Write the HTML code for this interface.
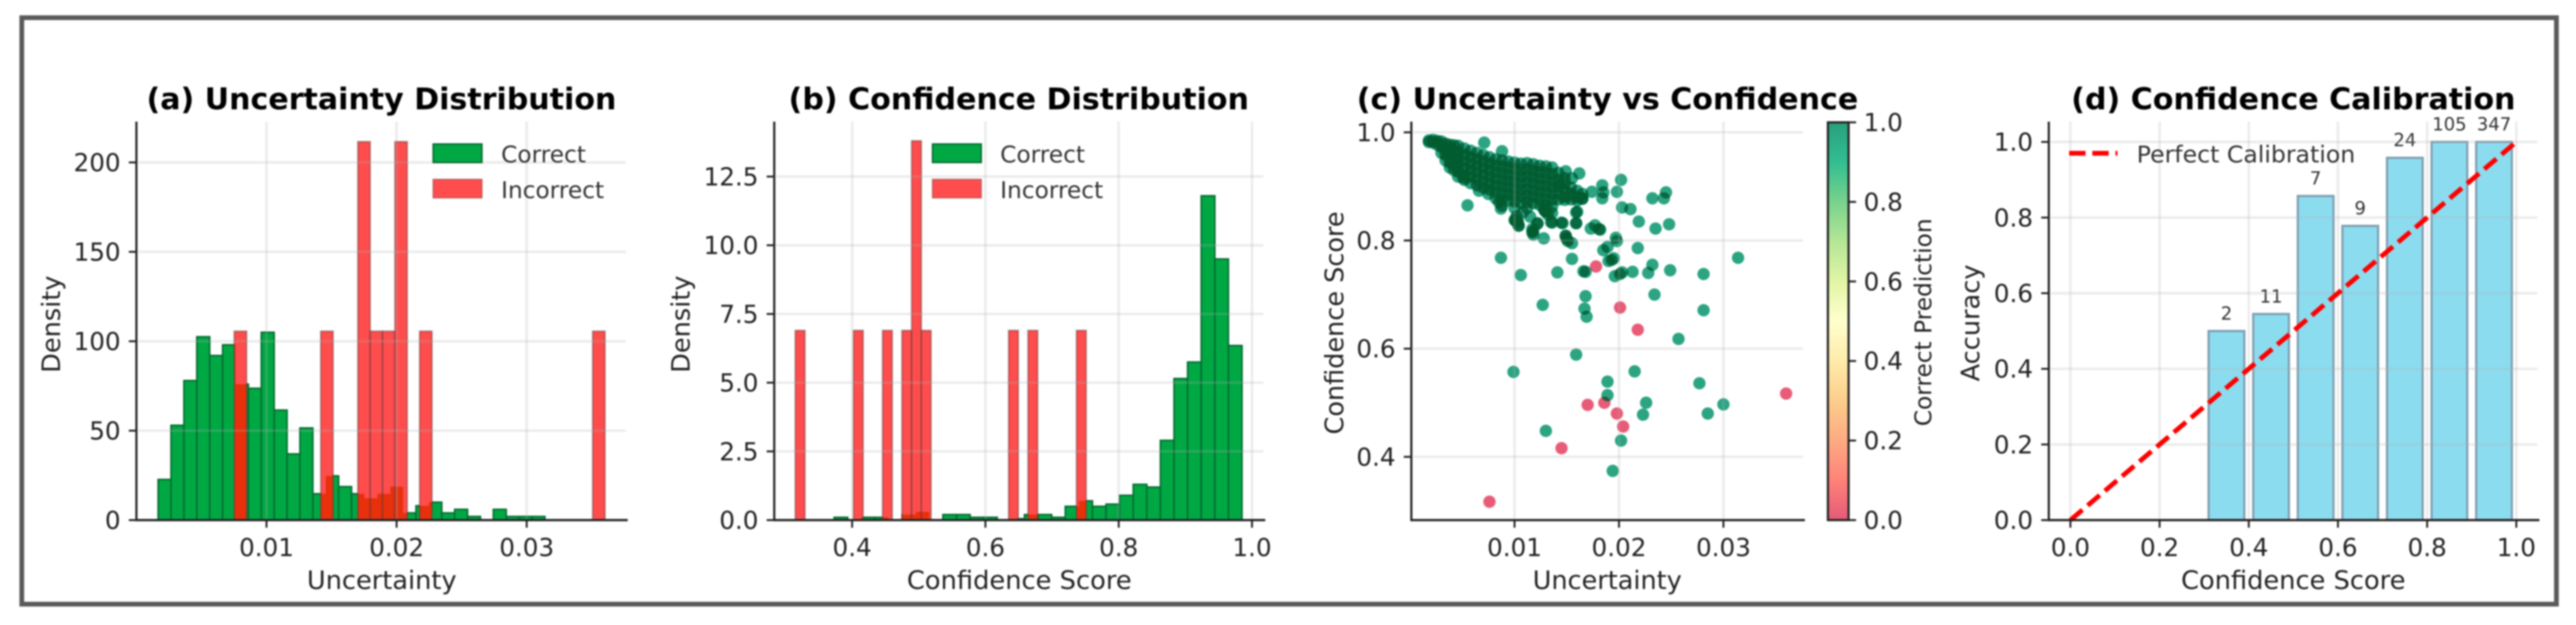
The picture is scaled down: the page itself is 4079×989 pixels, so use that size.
<!DOCTYPE html>
<html lang="en">
<head>
<meta charset="utf-8">
<title>Uncertainty and confidence analysis</title>
<style>
html,body{margin:0;padding:0;background:#fff;width:4079px;height:989px;overflow:hidden}
svg{display:block;filter:blur(1.4px)}
text{font-family:"DejaVu Sans","Liberation Sans",sans-serif;fill:#222}
.title{font-size:47.5px;font-weight:700;fill:#000}
.axis-label{font-size:40.5px}
.legend-text{font-size:36.8px;fill:#333}
</style>
</head>
<body>
<svg id="chart" xmlns="http://www.w3.org/2000/svg" width="4079" height="989" viewBox="0 0 4079 989">
  <defs>
    <linearGradient id="cbar-gradient" x1="0" y1="1" x2="0" y2="0">
      <stop offset="0" stop-color="#e45a78"/>
      <stop offset="0.1" stop-color="#ff8278"/>
      <stop offset="0.2" stop-color="#fdaa82"/>
      <stop offset="0.3" stop-color="#fdcd8c"/>
      <stop offset="0.4" stop-color="#feebaa"/>
      <stop offset="0.5" stop-color="#ffffcd"/>
      <stop offset="0.6" stop-color="#e1f5a5"/>
      <stop offset="0.7" stop-color="#b4e696"/>
      <stop offset="0.8" stop-color="#78d28c"/>
      <stop offset="0.9" stop-color="#32be91"/>
      <stop offset="1" stop-color="#28a07d"/>
    </linearGradient>
  </defs>
  <rect x="34.5" y="28" width="4013.5" height="928" fill="#fff" stroke="#5a5a5a" stroke-width="7.5"/>

  <g id="panel-a"></g>
  <g id="panel-b"></g>
  <g id="panel-c"></g>
  <g id="panel-d"></g>

  <text class="title" x="232" y="173" textLength="744" lengthAdjust="spacingAndGlyphs">(a) Uncertainty Distribution</text>
  <text class="axis-label" x="486" y="932" textLength="237" lengthAdjust="spacingAndGlyphs">Uncertainty</text>
  <text class="axis-label" transform="translate(95,513) rotate(-90)" text-anchor="middle">Density</text>
  <g>
    <rect x="686" y="228" width="77" height="29" fill="#00a844" stroke="#056b30" stroke-width="2.5"/>
    <text class="legend-text" x="793.5" y="257">Correct</text>
    <rect x="686" y="284" width="77" height="29" fill="#ff4d4d" stroke="#c05a5a" stroke-width="2"/>
    <text class="legend-text" x="793.5" y="313.5">Incorrect</text>
  </g>

  <text class="title" x="1248.7" y="173" textLength="729" lengthAdjust="spacingAndGlyphs">(b) Confidence Distribution</text>
  <text class="axis-label" x="1436" y="932" textLength="356" lengthAdjust="spacingAndGlyphs">Confidence Score</text>
  <text class="axis-label" transform="translate(1092,513) rotate(-90)" text-anchor="middle">Density</text>
  <g>
    <rect x="1476.7" y="228" width="77" height="29" fill="#00a844" stroke="#056b30" stroke-width="2.5"/>
    <text class="legend-text" x="1583.8" y="257">Correct</text>
    <rect x="1476.7" y="284" width="77" height="29" fill="#ff4d4d" stroke="#c05a5a" stroke-width="2"/>
    <text class="legend-text" x="1583.8" y="313.5">Incorrect</text>
  </g>

  <text class="title" x="2148.4" y="173" textLength="794" lengthAdjust="spacingAndGlyphs">(c) Uncertainty vs Confidence</text>
  <text class="axis-label" x="2427" y="932" textLength="236" lengthAdjust="spacingAndGlyphs">Uncertainty</text>
  <text class="axis-label" transform="translate(2127,511) rotate(-90)" text-anchor="middle" textLength="353" lengthAdjust="spacingAndGlyphs">Confidence Score</text>
  <text class="axis-label" transform="translate(3058,510) rotate(-90)" text-anchor="middle" style="font-size:36.8px">Correct Prediction</text>

  <text class="title" x="3279.7" y="173" textLength="703.5" lengthAdjust="spacingAndGlyphs">(d) Confidence Calibration</text>
  <text class="axis-label" x="3453.6" y="932" textLength="355.4" lengthAdjust="spacingAndGlyphs">Confidence Score</text>
  <text class="axis-label" transform="translate(3134,511) rotate(-90)" text-anchor="middle">Accuracy</text>
  <g>
    <line x1="3276.4" y1="242.5" x2="3353" y2="242.5" stroke="#ff0000" stroke-width="7.5" stroke-dasharray="26 10.7"/>
    <text class="legend-text" x="3383.4" y="257" textLength="346" lengthAdjust="spacingAndGlyphs">Perfect Calibration</text>
  </g>
</svg>

<script>
// Panel (a) data: density per uncertainty bin
const uncertaintyCorrectStart = 0.00167;
const uncertaintyCorrectBinWidth = 0.000991;
const uncertaintyCorrectDensity = [22.7,53,78,102.5,92,98,76,73.7,105,61.5,37,51.5,14.7,24.7,18.7,14.7,12.2,14.7,18.7,4,8,10,4,6,2,0,6,2,2,2];
const uncertaintyIncorrectStart = 0.00752;
const uncertaintyIncorrectBinWidth = 0.00095;
const uncertaintyIncorrectDensity = [105.6,0,0,0,0,0,0,105.6,0,0,211.6,105.6,105.6,211.6,0,105.6,0,0,0,0,0,0,0,0,0,0,0,0,0,105.6];
const uncertaintyXTicks = [0.01,0.02,0.03];
const uncertaintyXTickLabels = ['0.01','0.02','0.03'];
const uncertaintyYTicks = [0,50,100,150,200];
const uncertaintyYTickLabels = ['0','50','100','150','200'];

// Panel (b) data: density per confidence bin
const confidenceCorrectStart = 0.373;
const confidenceCorrectBinWidth = 0.0204;
const confidenceCorrectDensity = [0.1,0,0.1,0.1,0,0.2,0.3,0,0.2,0.2,0.1,0.1,0,0.05,0.2,0.2,0.1,0.5,0.7,0.5,0.58,0.9,1.3,1.2,2.9,5.15,5.75,11.8,9.5,6.35];
const confidenceIncorrectStart = 0.3147;
const confidenceIncorrectBinWidth = 0.01455;
const confidenceIncorrectDensity = [6.9,0,0,0,0,0,6.9,0,0,6.9,0,6.9,13.8,6.9,0,0,0,0,0,0,0,0,6.9,0,6.9,0,0,0,0,6.9];
const confidenceXTicks = [0.4,0.6,0.8,1.0];
const confidenceXTickLabels = ['0.4','0.6','0.8','1.0'];
const confidenceYTicks = [0,2.5,5,7.5,10,12.5];
const confidenceYTickLabels = ['0.0','2.5','5.0','7.5','10.0','12.5'];

// Panel (c) data: [uncertainty, confidence]
const scatterCorrect = [
[.0018,.985],[.0018,.982],[.0022,.986],[.0022,.981],[.0026,.984],[.0026,.977],[.0030,.983],[.0030,.973],[.0030,.962],
[.0034,.979],[.0034,.969],[.0034,.958],[.0034,.948],[.0038,.977],[.0038,.966],[.0038,.955],[.0038,.944],[.0038,.935],
[.0042,.976],[.0042,.964],[.0042,.952],[.0042,.941],[.0042,.930],[.0046,.975],[.0046,.963],[.0046,.951],[.0046,.939],[.0046,.927],[.0046,.918],
[.0052,.970],[.0052,.958],[.0052,.946],[.0052,.934],[.0052,.922],[.0052,.912],[.0058,.966],[.0058,.954],[.0058,.942],[.0058,.930],[.0058,.918],[.0058,.906],
[.0064,.962],[.0064,.950],[.0064,.938],[.0064,.926],[.0064,.914],[.0064,.902],[.0066,.892],[.0070,.958],[.0070,.946],[.0070,.934],[.0070,.922],[.0070,.910],[.0070,.898],
[.0076,.954],[.0076,.942],[.0076,.930],[.0076,.918],[.0076,.906],[.0076,.894],[.0082,.950],[.0082,.938],[.0082,.926],[.0082,.914],[.0082,.902],[.0082,.890],[.0082,.878],
[.0088,.948],[.0088,.936],[.0088,.924],[.0088,.912],[.0088,.900],[.0088,.888],[.0088,.876],[.0088,.864],[.0087,.859],[.0094,.946],[.0094,.934],[.0094,.922],[.0094,.910],[.0094,.898],[.0094,.886],[.0094,.874],
[.0100,.944],[.0100,.932],[.0100,.920],[.0100,.908],[.0100,.896],[.0100,.884],[.0100,.872],[.0100,.860],[.0100,.838],[.0103,.834],[.0106,.942],[.0106,.930],[.0106,.918],[.0106,.906],[.0106,.894],[.0106,.882],[.0106,.870],
[.0112,.943],[.0112,.931],[.0112,.919],[.0112,.907],[.0112,.895],[.0112,.883],[.0112,.871],[.0118,.941],[.0118,.929],[.0118,.917],[.0118,.905],[.0118,.893],[.0118,.881],[.0118,.869],
[.0124,.938],[.0124,.926],[.0124,.914],[.0124,.902],[.0124,.890],[.0124,.878],[.0124,.866],[.0130,.937],[.0130,.925],[.0130,.913],[.0130,.901],[.0130,.889],[.0130,.877],[.0130,.865],[.0130,.853],
[.0136,.935],[.0136,.923],[.0136,.911],[.0136,.899],[.0136,.887],[.0136,.875],[.0136,.863],[.0136,.851],[.0142,.925],[.0142,.912],[.0142,.900],[.0142,.888],[.0142,.876],[.0148,.915],[.0148,.905],[.0148,.893],[.0148,.881],[.0148,.875],
[.0154,.898],[.0154,.886],[.0154,.876],[.0160,.892],[.0160,.880],[.0160,.874],[.0165,.886],[.0165,.878],
[.0075,.886],[.0085,.871],[.0104,.828],[.0115,.844],[.0122,.832],[.0135,.834],[.0145,.833],[.0159,.832],[.0160,.853],[.0165,.877],[.0143,.902],[.0051,.916],
[.0101,.838],[.0103,.836],[.0102,.845],[.0108,.852],[.0112,.860],[.0117,.815],[.0118,.818],[.0149,.809],[.0150,.803],[.0129,.855],[.0132,.848],[.0128,.858],
[.0071,.981],[.0088,.965],[.0055,.865],[.0149,.928],[.0162,.924],[.0155,.915],[.0202,.912],[.0174,.890],[.0184,.902],[.0185,.889],[.0184,.878],[.0198,.890],[.0203,.861],[.0211,.858],
[.0232,.878],[.0243,.878],[.0245,.889],[.0219,.835],[.0235,.822],[.0248,.830],[.0177,.828],[.0173,.822],[.0181,.821],[.0182,.820],[.0197,.805],[.0198,.799],[.0189,.788],[.0185,.782],[.0218,.786],
[.0128,.804],[.0149,.808],[.0151,.799],[.0155,.795],[.0117,.821],[.0118,.811],[.0101,.836],[.0104,.827],[.0122,.831],[.0136,.833],[.0146,.832],[.0159,.832],[.0159,.852],
[.0087,.768],[.0106,.736],[.0141,.741],[.0155,.766],[.0166,.743],[.0168,.742],[.0190,.762],[.0193,.764],[.0195,.767],[.0232,.755],[.0228,.740],[.0213,.742],[.0196,.734],[.0201,.738],[.0203,.741],[.0249,.745],[.0281,.738],[.0314,.768],
[.0234,.700],[.0281,.671],[.0168,.697],[.0167,.674],[.0169,.659],[.0127,.681],[.0257,.618],[.0159,.589],[.0099,.557],[.0215,.558],[.0277,.536],[.0189,.539],[.0189,.514],[.0226,.500],[.0223,.478],[.0285,.480],[.0300,.497],[.0130,.448],[.0202,.430],[.0194,.374]
];
const scatterIncorrect = [[.0178,.752],[.0201,.676],[.0218,.635],[.0170,.496],[.0186,.500],[.0198,.480],[.0204,.456],[.0145,.416],[.0076,.317],[.0360,.517]];
const scatterXTicks = [0.01,0.02,0.03];
const scatterXTickLabels = ['0.01','0.02','0.03'];
const scatterYTicks = [0.4,0.6,0.8,1.0];
const scatterYTickLabels = ['0.4','0.6','0.8','1.0'];
const colorbarTicks = [0,0.2,0.4,0.6,0.8,1.0];
const colorbarTickLabels = ['0.0','0.2','0.4','0.6','0.8','1.0'];

// Panel (d) data
const calibrationBinCenters = [0.35,0.45,0.55,0.65,0.75,0.85,0.95];
const calibrationBinWidth = 0.08;
const calibrationAccuracy = [0.5,0.545,0.857,0.778,0.958,1,1];
const calibrationCounts = ['2','11','7','9','24','105','347'];
const perfectLineX = [0,1];
const perfectLineY = [0,1];
const calibrationXTicks = [0,0.2,0.4,0.6,0.8,1.0];
const calibrationXTickLabels = ['0.0','0.2','0.4','0.6','0.8','1.0'];
const calibrationYTicks = [0,0.2,0.4,0.6,0.8,1.0];
const calibrationYTickLabels = ['0.0','0.2','0.4','0.6','0.8','1.0'];

const SVGNS = 'http://www.w3.org/2000/svg';
function linear(d0, d1, r0, r1) { return v => r0 + (v - d0) / (d1 - d0) * (r1 - r0); }
function shape(parent, tag, attrs) {
  const el = document.createElementNS(SVGNS, tag);
  for (const k in attrs) el.setAttribute(k, attrs[k]);
  parent.appendChild(el);
  return el;
}

function drawGrid(g, x, y, xTicks, yTicks, box) {
  xTicks.forEach(t => {
    const el = shape(g, 'line', {x1: x(t), x2: x(t), y1: box.top, y2: box.bottom, stroke: 'rgb(176,176,176)', 'stroke-opacity': 0.24, 'stroke-width': 4});
    
    
  });
  yTicks.forEach(t => {
    const el = shape(g, 'line', {x1: box.left + 3, x2: box.right - 3, y1: y(t), y2: y(t), stroke: 'rgb(176,176,176)', 'stroke-opacity': 0.24, 'stroke-width': 4});
    
    
  });
}

function drawAxes(g, x, y, xTicks, xLabels, yTicks, yLabels, box) {
  const ySpine = shape(g, 'line', {x1: box.left, x2: box.left, y1: box.top, y2: box.bottom + 1.7, stroke: '#222', 'stroke-width': 3.4});
  
  
  const xSpine = shape(g, 'line', {x1: box.left, x2: box.right, y1: box.bottom, y2: box.bottom, stroke: '#222', 'stroke-width': 3.4});
  
  
  xTicks.forEach((t, i) => {
    const tick = shape(g, 'line', {x1: x(t), x2: x(t), y1: box.bottom, y2: box.bottom + 12, stroke: '#222', 'stroke-width': 3});
    
    
    const lab = shape(g, 'text', {x: x(t), y: 880, 'text-anchor': 'middle', 'font-size': 39});
    lab.textContent = xLabels[i];
    
    
  });
  yTicks.forEach((t, i) => {
    const tick = shape(g, 'line', {x1: box.left - 12, x2: box.left, y1: y(t), y2: y(t), stroke: '#222', 'stroke-width': 3});
    
    
    const lab = shape(g, 'text', {x: box.left - 25, y: y(t) + 14, 'text-anchor': 'end', 'font-size': 39});
    lab.textContent = yLabels[i];
    
    
  });
}

function drawHistogram(g, x, y, correct, cStart, cWidth, incorrect, iStart, iWidth) {
  correct.forEach((v, i) => {
    if (!v) return;
    const x0 = x(cStart + i * cWidth), x1 = x(cStart + (i + 1) * cWidth);
    const bar = shape(g, 'rect', {x: x0, y: y(v), width: x1 - x0, height: y(0) - y(v), fill: '#00a844', stroke: '#056b30', 'stroke-width': 2.5});
    
    
  });
  incorrect.forEach((v, i) => {
    if (!v) return;
    const lo = iStart + i * iWidth, hi = lo + iWidth;
    const x0 = x(lo), x1 = x(hi);
    const bar = shape(g, 'rect', {x: x0, y: y(v), width: x1 - x0, height: y(0) - y(v), fill: '#ff4d4d'});
    
    
    correct.forEach((c, j) => {
      if (!c) return;
      const cl = Math.max(lo, cStart + j * cWidth), ch = Math.min(hi, cStart + (j + 1) * cWidth);
      if (ch <= cl) return;
      const h = Math.min(c, v);
      const ov = shape(g, 'rect', {x: x(cl), y: y(h), width: x(ch) - x(cl), height: y(0) - y(h), fill: '#e8300c'});
      
      
    });
    const edge = shape(g, 'rect', {x: x0, y: y(v), width: x1 - x0, height: y(0) - y(v), fill: 'none', stroke: 'rgba(90,50,50,0.45)', 'stroke-width': 2.5});
    
    
  });
}

// Panel a
(function () {
  const g = document.getElementById('panel-a');
  const x = linear(0.01, 0.03, 422, 834);
  const y = linear(0, 200, 823, 257);
  const box = {left: 216, right: 994, top: 192.5, bottom: 823};
  drawHistogram(g, x, y, uncertaintyCorrectDensity, uncertaintyCorrectStart, uncertaintyCorrectBinWidth, uncertaintyIncorrectDensity, uncertaintyIncorrectStart, uncertaintyIncorrectBinWidth);
  drawGrid(g, x, y, uncertaintyXTicks, uncertaintyYTicks, box);
  drawAxes(g, x, y, uncertaintyXTicks, uncertaintyXTickLabels, uncertaintyYTicks, uncertaintyYTickLabels, box);
})();

// Panel b
(function () {
  const g = document.getElementById('panel-b');
  const x = linear(0.4, 1.0, 1349.3, 1982.5);
  const y = linear(0, 12.5, 823, 279.4);
  const box = {left: 1226, right: 2003.5, top: 192.5, bottom: 823};
  drawHistogram(g, x, y, confidenceCorrectDensity, confidenceCorrectStart, confidenceCorrectBinWidth, confidenceIncorrectDensity, confidenceIncorrectStart, confidenceIncorrectBinWidth);
  drawGrid(g, x, y, confidenceXTicks, confidenceYTicks, box);
  drawAxes(g, x, y, confidenceXTicks, confidenceXTickLabels, confidenceYTicks, confidenceYTickLabels, box);
})();

// Panel c
(function () {
  const g = document.getElementById('panel-c');
  const x = linear(0.01, 0.03, 2398.2, 2729);
  const y = linear(0.4, 1.0, 722.9, 209.4);
  const box = {left: 2234.8, right: 2858, top: 192.5, bottom: 823};
  const plot = shape(g, 'g', {style: 'isolation:isolate'});
  
  
  const bg = shape(plot, 'rect', {x: box.left, y: box.top, width: box.right - box.left, height: box.bottom - box.top, fill: '#fff'});
  
  
  scatterCorrect.forEach(p => {
    const c = shape(plot, 'circle', {cx: x(p[0]), cy: y(p[1]), r: 9.8, fill: 'rgb(44,164,130)', style: 'mix-blend-mode:multiply'});
    
    
  });
  scatterIncorrect.forEach(p => {
    const c = shape(plot, 'circle', {cx: x(p[0]), cy: y(p[1]), r: 9.8, fill: 'rgb(232,90,120)', style: 'mix-blend-mode:multiply'});
    
    
  });
  const floor = shape(plot, 'rect', {x: box.left, y: box.top, width: box.right - box.left, height: box.bottom - box.top, fill: 'rgb(0,92,48)', style: 'mix-blend-mode:lighten'});
  
  
  drawGrid(g, x, y, scatterXTicks, scatterYTicks, box);
  drawAxes(g, x, y, scatterXTicks, scatterXTickLabels, scatterYTicks, scatterYTickLabels, box);

  const cbY = linear(0, 1, 823, 193.6);
  const cb = shape(g, 'rect', {x: 2894.4, y: cbY(1), width: 32.8, height: cbY(0) - cbY(1), fill: 'url(#cbar-gradient)', stroke: '#222', 'stroke-width': 3.4});
  
  
  colorbarTicks.forEach((t, i) => {
    const tick = shape(g, 'line', {x1: 2927.2, x2: 2939, y1: cbY(t), y2: cbY(t), stroke: '#222', 'stroke-width': 3});
    
    
    const lab = shape(g, 'text', {x: 2951, y: cbY(t) + 14, 'font-size': 39});
    lab.textContent = colorbarTickLabels[i];
    
    
  });
})();

// Panel d
(function () {
  const g = document.getElementById('panel-d');
  const x = linear(0, 1, 3278.4, 3984.5);
  const y = linear(0, 1, 823, 224.6);
  const box = {left: 3244.2, right: 4021, top: 192.5, bottom: 823};
  calibrationAccuracy.forEach((v, i) => {
    const x0 = x(calibrationBinCenters[i] - calibrationBinWidth / 2), x1 = x(calibrationBinCenters[i] + calibrationBinWidth / 2);
    const bar = shape(g, 'rect', {x: x0, y: y(v), width: x1 - x0, height: y(0) - y(v), fill: '#8cdcf0', stroke: '#7f9fb0', 'stroke-width': 3.5});
    
    
    const lab = shape(g, 'text', {x: (x0 + x1) / 2, y: y(v) - 18, 'text-anchor': 'middle', 'font-size': 28.5, style: 'fill:#333'});
    lab.textContent = calibrationCounts[i];
    
    
  });
  drawGrid(g, x, y, calibrationXTicks, calibrationYTicks, box);
  const line = shape(g, 'line', {x1: x(perfectLineX[0]), y1: y(perfectLineY[0]), x2: x(perfectLineX[1]), y2: y(perfectLineY[1]), stroke: '#ff0000', 'stroke-width': 7.5, 'stroke-dasharray': '25 10.8'});
  
  
  drawAxes(g, x, y, calibrationXTicks, calibrationXTickLabels, calibrationYTicks, calibrationYTickLabels, box);
})();
</script>
</body>
</html>
